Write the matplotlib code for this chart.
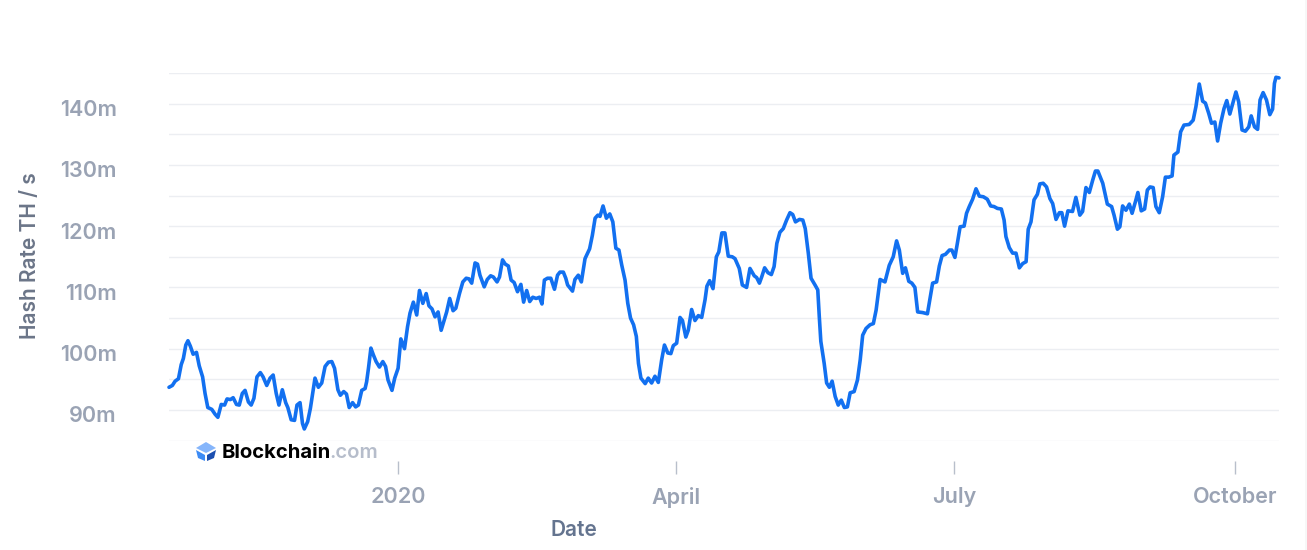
import matplotlib
matplotlib.use('Agg')
import matplotlib.pyplot as plt
from matplotlib.patches import Polygon, Rectangle
from matplotlib.transforms import ScaledTranslation, Affine2D

plt.rcParams['font.family'] = ['Inter', 'DejaVu Sans']

# days since 2020-01-01
days = [
    -75.0, -73.9, -73.0, -71.9, -71.0, -70.3, -69.5, -68.8, -68.0, -67.1, -66.0, -65.1, -64.0, -63.2, -62.3, -61.0,
    -59.9, -59.0, -57.9, -56.8, -56.0, -54.9, -54.0, -52.9, -52.0, -51.0, -50.1, -49.0, -48.1, -47.2, -46.2, -45.1,
    -44.2, -43.0, -41.9, -40.9, -39.9, -39.0, -37.9, -36.8, -36.1, -35.0, -33.9, -33.1, -32.1, -31.3, -30.7, -29.6,
    -28.7, -27.2, -26.1, -25.0, -23.9, -22.8, -21.7, -20.8, -19.7, -18.9, -17.8, -16.9, -16.0, -14.9, -13.9, -13.0,
    -11.9, -10.8, -10.3, -9.7, -8.9, -8.1, -7.2, -6.1, -5.0, -4.1, -3.3, -2.0, -1.1, 0.0, 0.9, 2.1,
    3.1, 3.9, 5.0, 6.1, 7.0, 8.1, 9.2, 10.1, 11.1, 12.1, 13.1, 14.1, 15.1, 15.9, 16.9, 18.0,
    18.9, 20.1, 21.2, 22.3, 23.2, 24.1, 25.2, 26.0, 26.8, 28.2, 29.2, 30.3, 31.2, 32.4, 33.2, 34.2,
    35.1, 36.1, 37.0, 38.0, 39.1, 40.2, 41.1, 42.1, 43.1, 44.1, 45.2, 46.3, 47.1, 47.9, 48.9, 50.0,
    51.2, 52.2, 53.0, 54.1, 54.9, 55.5, 57.1, 57.9, 59.0, 60.0, 61.2, 62.7, 63.6, 64.5, 65.4, 66.1,
    67.1, 68.2, 69.3, 70.3, 71.3, 72.3, 73.2, 74.3, 75.2, 76.1, 77.1, 78.0, 78.7, 79.5, 80.9, 81.9,
    83.0, 84.1, 85.2, 86.3, 87.2, 88.3, 89.3, 90.1, 91.2, 92.3, 93.1, 94.2, 95.0, 96.1, 97.2, 98.3,
    99.4, 100.5, 101.1, 102.0, 103.1, 104.2, 105.0, 106.0, 107.0, 108.1, 109.4, 110.3, 111.7, 112.7, 114.1, 115.2,
    116.6, 117.4, 118.3, 119.1, 120.0, 121.1, 122.2, 123.1, 124.0, 125.0, 126.1, 127.2, 128.3, 129.2, 130.1, 131.4,
    132.5, 133.3, 134.3, 135.2, 136.5, 137.4, 137.9, 138.4, 139.5, 140.3, 141.2, 142.1, 143.1, 144.1, 145.1, 146.1,
    147.1, 148.0, 149.3, 150.4, 151.3, 152.1, 153.2, 154.5, 155.6, 156.5, 157.8, 159.4, 160.8, 162.1, 163.2, 164.1,
    165.2, 166.1, 167.2, 168.2, 169.2, 170.1, 171.7, 173.3, 175.0, 176.3, 177.2, 178.1, 179.2, 180.5, 181.3, 182.3,
    183.1, 184.0, 185.3, 186.1, 187.0, 188.1, 189.2, 190.3, 191.6, 192.9, 194.0, 195.1, 196.2, 197.5, 198.4, 199.0,
    200.1, 201.2, 202.3, 203.4, 204.5, 205.6, 206.3, 207.2, 208.2, 209.3, 210.1, 211.2, 212.3, 213.4, 214.3, 215.4,
    216.5, 217.3, 218.2, 219.3, 220.8, 221.9, 223.2, 224.1, 225.2, 226.3, 227.4, 228.3, 229.1, 230.7, 232.2, 233.6,
    234.4, 235.5, 236.3, 237.2, 238.3, 239.4, 240.3, 241.4, 242.2, 243.3, 244.4, 245.3, 246.2, 247.2, 248.1, 249.2,
    250.3, 251.2, 252.3, 253.4, 254.0, 255.3, 256.2, 257.3, 259.0, 260.3, 261.2, 262.3, 263.4, 264.3, 265.4, 266.3,
    267.4, 268.3, 269.3, 270.4, 271.3, 272.3, 273.4, 274.3, 275.2, 276.3, 277.4, 278.5, 279.3, 280.4, 281.4, 282.2,
    283.2, 284.3, 285.4, 286.3, 286.9, 287.4, 288.4,
]

# hash rate in millions of TH/s
hash_rate = [
    93.7, 94.0, 94.7, 95.1, 97.4, 98.4, 100.6, 101.3, 100.4, 99.1, 99.4, 97.2, 95.4, 92.7, 90.4, 90.1,
    89.3, 88.8, 90.9, 90.8, 91.8, 91.7, 92.0, 90.9, 90.8, 92.7, 93.2, 91.3, 90.8, 91.9, 95.4, 96.1,
    95.4, 94.0, 95.2, 95.7, 92.7, 90.8, 93.3, 91.2, 90.4, 88.4, 88.3, 90.8, 91.2, 87.8, 86.9, 88.1,
    90.3, 95.2, 93.7, 94.4, 97.1, 97.8, 97.9, 96.8, 93.3, 92.4, 93.0, 92.6, 90.4, 91.2, 90.5, 90.8,
    93.2, 93.5, 94.6, 96.8, 100.1, 99.0, 97.9, 97.0, 97.9, 97.1, 94.9, 93.2, 95.2, 96.8, 101.6, 100.0,
    103.6, 105.8, 107.6, 105.5, 109.5, 107.4, 109.0, 107.0, 106.5, 105.2, 106.0, 103.0, 104.7, 106.0, 108.2, 106.2,
    106.6, 109.0, 110.9, 111.5, 111.4, 110.7, 114.0, 113.8, 112.0, 110.1, 111.3, 111.9, 111.7, 110.9, 111.7, 114.5,
    113.8, 113.5, 111.2, 110.8, 109.3, 110.5, 107.6, 109.5, 107.7, 108.4, 108.2, 108.4, 107.3, 111.2, 111.5, 111.5,
    109.7, 112.0, 112.5, 112.5, 111.5, 110.4, 109.4, 111.3, 112.0, 110.9, 114.7, 116.3, 118.5, 121.3, 121.8, 121.6,
    123.3, 121.3, 122.0, 120.7, 116.4, 116.1, 113.7, 111.2, 107.4, 105.0, 103.9, 102.0, 97.6, 95.2, 94.3, 95.2,
    94.4, 95.5, 94.5, 98.2, 100.6, 99.3, 99.2, 100.5, 100.9, 105.1, 104.6, 101.9, 103.0, 106.4, 104.6, 105.4,
    105.1, 108.0, 110.2, 111.1, 109.8, 115.0, 115.8, 118.9, 118.9, 115.1, 115.0, 114.7, 113.1, 110.4, 110.0, 113.1,
    111.9, 111.6, 110.7, 111.8, 113.2, 112.4, 112.1, 113.4, 117.2, 119.0, 119.6, 121.0, 122.2, 121.9, 120.7, 121.1,
    121.0, 119.6, 115.6, 111.5, 110.4, 109.6, 105.2, 101.2, 97.6, 94.4, 93.7, 94.7, 92.2, 90.8, 91.6, 90.4,
    90.5, 92.8, 93.0, 94.9, 98.2, 102.2, 103.3, 103.9, 104.1, 106.3, 111.3, 110.9, 113.6, 115.0, 117.6, 116.1,
    112.3, 113.2, 111.0, 110.7, 110.0, 106.0, 105.9, 105.7, 110.7, 110.9, 113.5, 115.2, 115.4, 116.1, 116.1, 114.9,
    117.2, 119.9, 120.0, 122.1, 123.2, 124.4, 126.1, 124.9, 124.8, 124.4, 123.3, 123.2, 122.9, 122.8, 121.0, 118.3,
    116.5, 115.6, 115.6, 113.2, 113.9, 114.2, 119.5, 120.7, 124.3, 125.2, 126.9, 127.0, 126.4, 124.5, 123.7, 121.1,
    122.2, 122.2, 120.0, 122.5, 122.4, 124.7, 121.8, 122.4, 126.3, 125.5, 127.5, 129.0, 129.0, 127.0, 123.6, 123.2,
    121.8, 119.5, 119.9, 123.3, 122.6, 123.6, 122.1, 124.0, 125.5, 122.5, 122.8, 125.9, 126.4, 126.3, 123.2, 122.2,
    124.8, 128.0, 128.0, 128.2, 131.6, 132.1, 135.4, 136.5, 136.6, 137.3, 139.5, 143.2, 140.4, 140.1, 138.4, 136.8,
    137.0, 133.9, 136.8, 139.2, 140.5, 138.3, 140.3, 141.9, 140.3, 135.7, 135.5, 136.2, 138.0, 136.2, 135.8, 140.6,
    141.8, 140.6, 138.2, 139.1, 143.3, 144.3, 144.2,
]

month_days = [0, 91, 182, 274]
month_labels = ['2020', 'April', 'July', 'October']
value_ticks = [90, 100, 110, 120, 130, 140]
value_labels = ['90m', '100m', '110m', '120m', '130m', '140m']
grid_values = [85, 90, 95, 100, 105, 110, 115, 120, 125, 130, 135, 140, 145]

W, H = 1307, 550
fig = plt.figure(figsize=(W / 100, H / 100), dpi=100)
ax = fig.add_axes([169 / W, 1 - 440.6 / H, (1279 - 169) / W, (440.6 - 73) / H])

ax.plot(days, hash_rate, color='#1270f0', lw=2.6, solid_joinstyle='round', solid_capstyle='round', zorder=3, clip_on=False)
ax.set_xlim(-75, 288.4)
ax.set_ylim(85, 145)

# grid every 5m, labels only every 10m
for v in grid_values:
    ax.axhline(v, color='#eceef2', lw=1, zorder=1)

for side in ['top', 'left', 'right']:
    ax.spines[side].set_visible(False)
ax.spines['bottom'].set_position(('outward', 15))
ax.spines['bottom'].set_color('none')

ax.set_xticks(month_days)
ax.set_xticklabels(month_labels, fontsize=15.5, fontweight='semibold', color='#9aa3b4')
ax.tick_params(axis='x', length=9.4, width=1, color='#b8bfcb', pad=9.2)

ax.set_yticks(value_ticks)
ax.set_yticklabels(value_labels, fontsize=15.5, fontweight='semibold', color='#9aa3b4')
ax.tick_params(axis='y', length=0, pad=37.7)
offset = ScaledTranslation(0, -4.5 / 100, fig.dpi_scale_trans)
for label in ax.get_yticklabels():
    label.set_transform(label.get_transform() + offset)

fig.text(30.5 / W, 1 - 256 / H, 'Hash Rate TH / s', rotation=90, ha='center', va='center',
         fontsize=15, fontweight='semibold', color='#6b7588')
fig.text(574 / W, 1 - 530 / H, 'Date', ha='center', va='center',
         fontsize=15, fontweight='semibold', color='#64748f')

# logo, pixel coordinates from top left
px = Affine2D().scale(1, -1).translate(0, H)
fig.patches.append(Polygon([(206, 442), (216, 448), (206, 453), (196, 448)], closed=True,
                           facecolor='#85b5fb', edgecolor='none', transform=px))
fig.patches.append(Polygon([(196, 450), (205, 455), (205, 461), (198, 458)], closed=True,
                           facecolor='#3c8bf5', edgecolor='none', transform=px))
fig.patches.append(Polygon([(216, 450), (207, 455), (207, 461), (214, 458)], closed=True,
                           facecolor='#1b4fb0', edgecolor='none', transform=px))
fig.text(222 / W, 1 - 453 / H, 'Blockchain', ha='left', va='center',
         fontsize=14.6, fontweight='bold', color='#000000')
fig.text(329.5 / W, 1 - 453 / H, '.com', ha='left', va='center',
         fontsize=14.6, fontweight='semibold', color='#b6bdcb')

fig.patches.append(Rectangle((1305, 0), 2, H, facecolor='#f7f7f7', edgecolor='none', transform=px))

fig.savefig('out.png', dpi=100)
